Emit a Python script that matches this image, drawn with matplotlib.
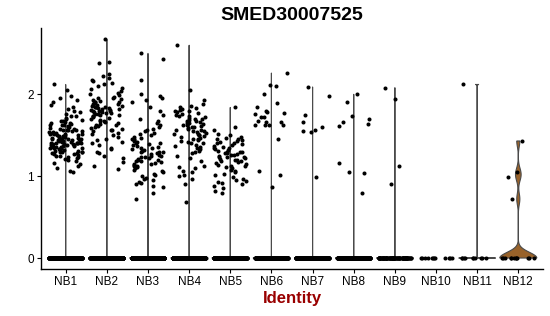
import numpy as np
import matplotlib
matplotlib.use("Agg")
import matplotlib.pyplot as plt

plt.rcParams['font.family'] = ['Liberation Sans', 'DejaVu Sans']

title = "SMED30007525"
xlabel = "Identity"
categories = ["NB1", "NB2", "NB3", "NB4", "NB5", "NB6", "NB7", "NB8", "NB9", "NB10", "NB11", "NB12"]
yticks = [0, 1, 2]

# number of cells with zero expression per cluster
zero_counts = [800, 700, 600, 600, 500, 300, 250, 250, 100, 12, 10, 12]

# non-zero expression values per cluster
nb1 = [2.12, 2.05, 1.98, 1.96, 1.93, 1.90, 1.87, 1.85, 1.82, 1.80, 1.78, 1.76,
       1.74, 1.73, 1.71, 1.70, 1.69, 1.68, 1.67, 1.66, 1.65, 1.65, 1.64, 1.63, 1.62, 1.62,
       1.61, 1.60, 1.60, 1.59, 1.58, 1.58, 1.57, 1.57, 1.56, 1.56, 1.55, 1.55, 1.54, 1.54,
       1.53, 1.53, 1.52, 1.52, 1.51, 1.51, 1.50, 1.50, 1.50, 1.49, 1.49, 1.48, 1.48, 1.48,
       1.47, 1.47, 1.46, 1.46, 1.46, 1.45, 1.45, 1.45, 1.44, 1.44, 1.44, 1.43, 1.43, 1.43,
       1.42, 1.42, 1.42, 1.41, 1.41, 1.41, 1.40, 1.40, 1.40, 1.39, 1.39, 1.39, 1.38, 1.38,
       1.38, 1.37, 1.37, 1.36, 1.36, 1.36, 1.35, 1.35, 1.34, 1.34, 1.33, 1.33, 1.32, 1.32,
       1.31, 1.31, 1.30, 1.30, 1.29, 1.29, 1.28, 1.28, 1.27, 1.27, 1.26, 1.25, 1.25, 1.24,
       1.23, 1.22, 1.21, 1.20, 1.18, 1.16, 1.15, 1.13, 1.10, 1.06, 1.05]
nb2 = [2.67, 2.40, 2.38, 2.25, 2.22, 2.20, 2.18, 2.16, 2.14, 2.12, 2.10, 2.08, 2.06,
       2.04, 2.02, 2.00, 1.99, 1.97, 1.96, 1.95, 1.94, 1.93, 1.92, 1.91, 1.90, 1.90, 1.89,
       1.88, 1.88, 1.87, 1.86, 1.86, 1.85, 1.85, 1.84, 1.84, 1.83, 1.83, 1.82, 1.82, 1.81,
       1.81, 1.80, 1.80, 1.79, 1.79, 1.78, 1.78, 1.77, 1.77, 1.76, 1.76, 1.75, 1.75, 1.74,
       1.73, 1.72, 1.71, 1.70, 1.69, 1.68, 1.67, 1.66, 1.65, 1.64, 1.63, 1.62, 1.61, 1.60,
       1.59, 1.58, 1.57, 1.56, 1.55, 1.53, 1.52, 1.50, 1.48, 1.46, 1.44, 1.42, 1.40, 1.38,
       1.35, 1.33, 1.30, 1.28, 1.25, 1.22, 1.17, 1.12, 1.09]
nb3 = [2.50, 2.43, 2.17, 2.00, 1.98, 1.95, 1.93, 1.90, 1.85, 1.80, 1.75, 1.70, 1.68,
       1.65, 1.62, 1.60, 1.58, 1.56, 1.55, 1.53, 1.52, 1.50, 1.48, 1.47, 1.46, 1.45, 1.44,
       1.43, 1.42, 1.41, 1.40, 1.39, 1.38, 1.37, 1.36, 1.35, 1.34, 1.33, 1.32, 1.31, 1.30,
       1.30, 1.29, 1.28, 1.27, 1.26, 1.25, 1.25, 1.24, 1.23, 1.22, 1.21, 1.20, 1.20, 1.19,
       1.18, 1.17, 1.16, 1.15, 1.15, 1.14, 1.13, 1.12, 1.11, 1.10, 1.08, 1.06, 1.05, 1.03,
       1.01, 1.00, 0.98, 0.97, 0.95, 0.93, 0.92, 0.90, 0.88, 0.87, 0.80, 0.72]
nb4 = [2.60, 2.05, 1.93, 1.88, 1.86, 1.84, 1.83, 1.82, 1.81, 1.80, 1.79, 1.78, 1.77,
       1.76, 1.75, 1.74, 1.73, 1.72, 1.71, 1.70, 1.70, 1.69, 1.68, 1.67, 1.66, 1.65, 1.65,
       1.64, 1.63, 1.62, 1.61, 1.60, 1.60, 1.59, 1.58, 1.57, 1.56, 1.55, 1.55, 1.54, 1.53,
       1.52, 1.51, 1.50, 1.50, 1.49, 1.48, 1.47, 1.46, 1.45, 1.44, 1.43, 1.42, 1.41, 1.40,
       1.38, 1.37, 1.36, 1.35, 1.33, 1.31, 1.30, 1.28, 1.25, 1.22, 1.18, 1.12, 1.11, 1.10,
       1.06, 1.05, 1.02, 1.00, 0.96, 0.91, 0.69]
nb5 = [1.84, 1.60, 1.57, 1.52, 1.50, 1.48, 1.47, 1.46, 1.45, 1.44, 1.43, 1.42, 1.41,
       1.40, 1.39, 1.38, 1.37, 1.36, 1.35, 1.34, 1.33, 1.32, 1.31, 1.30, 1.30, 1.29, 1.28,
       1.28, 1.27, 1.26, 1.26, 1.25, 1.24, 1.24, 1.23, 1.22, 1.21, 1.20, 1.20, 1.19, 1.18,
       1.17, 1.16, 1.15, 1.14, 1.13, 1.12, 1.11, 1.10, 1.08, 1.06, 1.05, 1.03, 1.01, 0.99,
       0.97, 0.95, 0.94, 0.93, 0.92, 0.90, 0.88, 0.85, 0.82, 0.79]
nb6 = [2.26, 2.11, 2.10, 2.00, 1.89, 1.84, 1.80, 1.78, 1.77, 1.76, 1.72, 1.72, 1.67,
       1.66, 1.66, 1.63, 1.62, 1.62, 1.62, 1.46, 1.06, 1.02, 0.87]
nb7 = [2.09, 1.98, 1.75, 1.66, 1.60, 1.57, 1.55, 1.54, 0.99]
nb8 = [2.00, 1.91, 1.73, 1.70, 1.66, 1.64, 1.61, 1.16, 1.05, 1.04, 0.80]
nb9 = [2.08, 1.94, 1.12, 0.91]
nb10 = []
nb11 = [2.12]
nb12 = [1.43, 1.05, 0.99, 0.72]
nonzero = [nb1, nb2, nb3, nb4, nb5, nb6, nb7, nb8, nb9, nb10, nb11, nb12]

violin_colors = ["#F8766D", "#DE8C00", "#B79F00", "#7CAE00", "#00BA38", "#00C08B",
                 "#00BFC4", "#00B4F0", "#619CFF", "#C77CFF", "#F564E3", "#98622A"]


def nrd0(x):
    n = len(x)
    hi = np.std(x, ddof=1)
    q75, q25 = np.percentile(x, [75, 25])
    lo = min(hi, (q75 - q25) / 1.34)
    if lo == 0:
        lo = 1e-5
    return 0.9 * lo * n ** -0.2


fig = plt.figure(figsize=(5.5, 3.16), dpi=100)
ax = fig.add_axes([41 / 550, 47 / 316, (543 - 41) / 550, (269 - 28) / 316])

rng = np.random.default_rng(3)
for i, (cat, nz, n0) in enumerate(zip(categories, nonzero, zero_counts)):
    pos = i + 1
    vals = np.concatenate([np.zeros(n0), np.array(nz, dtype=float)])
    if vals.max() > vals.min():
        bw = nrd0(vals)
        grid = np.linspace(vals.min(), vals.max(), 512)
        dens = np.exp(-0.5 * ((grid[:, None] - vals[None, :]) / bw) ** 2).sum(axis=1)
        hw = 0.45 * dens / dens.max()
        xs = np.concatenate([pos - hw, (pos + hw)[::-1]])
        ys = np.concatenate([grid, grid[::-1]])
        ax.fill(xs, ys, facecolor=violin_colors[i], edgecolor="#4a4a4a",
                linewidth=0.8, zorder=1)
    jit = rng.uniform(-0.4, 0.4, size=len(vals))
    ax.scatter(pos + jit, vals, s=8.5, c="black", linewidths=0, zorder=3)

ax.set_xlim(0.4, 12.6)
ax.set_ylim(-0.134, 2.81)
ax.set_xticks(range(1, len(categories) + 1))
ax.set_xticklabels(categories)
ax.set_yticks(yticks)
ax.set_yticklabels([str(t) for t in yticks])
ax.tick_params(axis="both", length=3, width=0.8, color="black",
               labelsize=8.5, labelcolor="black", pad=2)
for s in ["top", "right"]:
    ax.spines[s].set_visible(False)
for s in ["left", "bottom"]:
    ax.spines[s].set_linewidth(1.0)
    ax.spines[s].set_color("black")

ax.set_title(title, fontsize=14, fontweight="bold", pad=6)
ax.set_xlabel(xlabel, fontsize=12, fontweight="bold", color="#990000", labelpad=2)

fig.savefig("out.png", dpi=100)
